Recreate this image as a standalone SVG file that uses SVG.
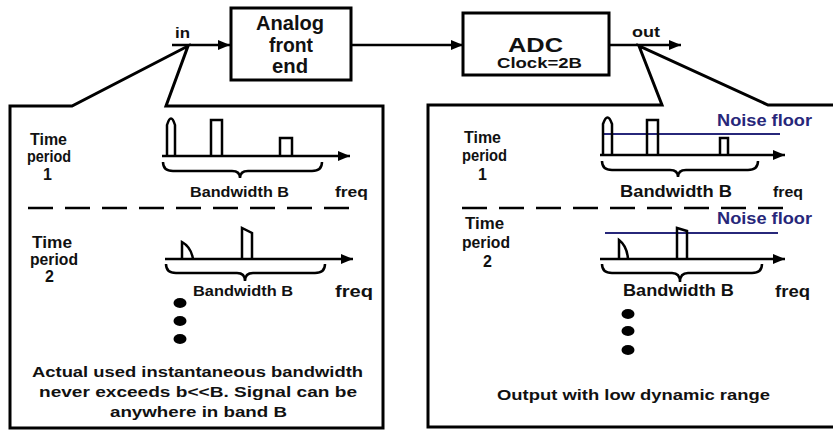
<svg xmlns="http://www.w3.org/2000/svg" width="833" height="431" viewBox="0 0 833 431">
<defs>
<marker id="ah" markerUnits="userSpaceOnUse" markerWidth="12" markerHeight="10" refX="12" refY="5" orient="auto">
<path d="M0,0 L12,5 L0,10 Z" fill="#000"/>
</marker>
<style>
.ln{fill:none;stroke:#000;stroke-width:2.5}
.bx{fill:#fff;stroke:#000;stroke-width:3}
.ax{fill:none;stroke:#000;stroke-width:2.5;marker-end:url(#ah)}
.nf{fill:none;stroke:#27277a;stroke-width:2}
.t{font-family:"Liberation Sans",Arial,sans-serif;font-weight:bold;fill:#111}
.b{fill:#27277a}
.dot{fill:#000}
.ds{fill:none;stroke:#000;stroke-width:2.5;stroke-dasharray:25 12}
</style>
</defs>
<rect width="833" height="431" fill="#fff"/>

<g id="callout-in">
<path class="bx" d="M10,106 L72,106 L188,46 L166,106 L383,106 L383,428 L10,428 Z"/>
</g>
<g id="callout-out">
<path class="bx" d="M428,105 L662,105 L639,46 L768,105 L840,105 L840,427 L428,427 Z"/>
</g>

<g id="connectors">
<line class="ax" x1="172" y1="45" x2="230" y2="45"/>
<line class="ax" x1="351" y1="45" x2="463" y2="45"/>
<line class="ax" x1="609" y1="45" x2="681" y2="45"/>
</g>

<g id="label-in"><text class="t" x="175" y="38" font-size="14" textLength="15" lengthAdjust="spacingAndGlyphs">in</text></g>
<g id="label-out"><text class="t" x="632" y="37" font-size="14" textLength="28" lengthAdjust="spacingAndGlyphs">out</text></g>

<g id="node-afe">
<rect class="bx" x="231" y="8" width="120" height="72"/>
<text class="t" x="256" y="30" font-size="20" textLength="68" lengthAdjust="spacingAndGlyphs">Analog</text>
<text class="t" x="269" y="52" font-size="20" textLength="44" lengthAdjust="spacingAndGlyphs">front</text>
<text class="t" x="272" y="73" font-size="20" textLength="36" lengthAdjust="spacingAndGlyphs">end</text>
</g>

<g id="node-adc">
<rect class="bx" x="463" y="13" width="146" height="62"/>
<text class="t" x="508" y="52" font-size="21" textLength="55" lengthAdjust="spacingAndGlyphs">ADC</text>
<text class="t" x="497" y="68" font-size="15" textLength="85" lengthAdjust="spacingAndGlyphs">Clock=2B</text>
</g>

<g id="input-spectra">
<text class="t" x="30" y="145" font-size="16" textLength="37" lengthAdjust="spacingAndGlyphs">Time</text>
<text class="t" x="27" y="162" font-size="16" textLength="44" lengthAdjust="spacingAndGlyphs">period</text>
<text class="t" x="43" y="180" font-size="16">1</text>
<line class="ax" x1="162" y1="156" x2="350" y2="156"/>
<path class="ln" d="M167,156 V125 Q171,112 175,125 V156"/>
<path class="ln" d="M211,156 V120 H222 V156"/>
<path class="ln" d="M280,156 V138 H292 V156"/>
<path class="ln" d="M163,162 Q163,171 173,171 L232,171 Q240,171 240,178 Q240,171 248,171 L312,171 Q322,171 322,162"/>
<text class="t" x="190" y="197" font-size="15.5" textLength="99" lengthAdjust="spacingAndGlyphs">Bandwidth B</text>
<text class="t" x="335" y="197" font-size="15" textLength="33" lengthAdjust="spacingAndGlyphs">freq</text>
<line class="ds" x1="28" y1="208" x2="350" y2="208"/>
<text class="t" x="32" y="248" font-size="16" textLength="40" lengthAdjust="spacingAndGlyphs">Time</text>
<text class="t" x="30" y="265" font-size="16" textLength="48" lengthAdjust="spacingAndGlyphs">period</text>
<text class="t" x="45" y="282" font-size="16">2</text>
<line class="ax" x1="165" y1="259" x2="353" y2="259"/>
<path class="ln" d="M182,259 V242 Q191,247 193,259"/>
<path class="ln" d="M242,259 V228 L252,233 V259"/>
<path class="ln" d="M166,264 Q166,273 176,273 L237,273 Q245,273 245,281 Q245,273 253,273 L315,273 Q325,273 325,264"/>
<text class="t" x="193" y="296" font-size="15.5" textLength="100" lengthAdjust="spacingAndGlyphs">Bandwidth B</text>
<text class="t" x="335" y="297" font-size="16" textLength="38" lengthAdjust="spacingAndGlyphs">freq</text>
<ellipse class="dot" cx="180" cy="303" rx="6.5" ry="5"/>
<ellipse class="dot" cx="180" cy="321" rx="6.5" ry="5"/>
<ellipse class="dot" cx="180" cy="339" rx="6.5" ry="5"/>
<text class="t" x="32" y="377" font-size="15.5" textLength="331" lengthAdjust="spacingAndGlyphs">Actual used instantaneous bandwidth</text>
<text class="t" x="39" y="397" font-size="15.5" textLength="318" lengthAdjust="spacingAndGlyphs">never exceeds b&lt;&lt;B. Signal can be</text>
<text class="t" x="110" y="417" font-size="15.5" textLength="177" lengthAdjust="spacingAndGlyphs">anywhere in band B</text>
</g>

<g id="output-spectra">
<text class="t" x="464" y="143" font-size="16" textLength="37" lengthAdjust="spacingAndGlyphs">Time</text>
<text class="t" x="462" y="161" font-size="16" textLength="45" lengthAdjust="spacingAndGlyphs">period</text>
<text class="t" x="478" y="180" font-size="16">1</text>
<line class="nf" x1="602" y1="134" x2="780" y2="134"/>
<text class="t b" x="717" y="126" font-size="17" textLength="95" lengthAdjust="spacingAndGlyphs">Noise floor</text>
<line class="ax" x1="600" y1="155" x2="785" y2="155"/>
<path class="ln" d="M603,155 V124 Q607.5,111 612,124 V155"/>
<path class="ln" d="M647,155 V120 H658 V155"/>
<path class="ln" d="M720,155 V138 H728 V155"/>
<path class="ln" d="M602,161 Q602,170 612,170 L670,170 Q678,170 678,177 Q678,170 686,170 L748,170 Q758,170 758,161"/>
<text class="t" x="620" y="197" font-size="17" textLength="112" lengthAdjust="spacingAndGlyphs">Bandwidth B</text>
<text class="t" x="773" y="197" font-size="14" textLength="30" lengthAdjust="spacingAndGlyphs">freq</text>
<line class="ds" x1="462" y1="208" x2="783" y2="208"/>
<text class="t b" x="717" y="224" font-size="17" textLength="95" lengthAdjust="spacingAndGlyphs">Noise floor</text>
<line class="nf" x1="605" y1="233" x2="778" y2="233"/>
<text class="t" x="465" y="229" font-size="16" textLength="39" lengthAdjust="spacingAndGlyphs">Time</text>
<text class="t" x="462" y="248" font-size="16" textLength="48" lengthAdjust="spacingAndGlyphs">period</text>
<text class="t" x="483" y="267" font-size="16">2</text>
<line class="ax" x1="600" y1="259" x2="785" y2="259"/>
<path class="ln" d="M619,259 V240 Q627,246 628,259"/>
<path class="ln" d="M677,259 V228 L687,231 V259"/>
<path class="ln" d="M602,264 Q602,273 612,273 L672,273 Q680,273 680,282 Q680,273 688,273 L752,273 Q762,273 762,264"/>
<text class="t" x="623" y="296" font-size="17" textLength="111" lengthAdjust="spacingAndGlyphs">Bandwidth B</text>
<text class="t" x="775" y="297" font-size="16" textLength="35" lengthAdjust="spacingAndGlyphs">freq</text>
<ellipse class="dot" cx="628" cy="314" rx="6.5" ry="5"/>
<ellipse class="dot" cx="628" cy="331" rx="6.5" ry="5"/>
<ellipse class="dot" cx="628" cy="350" rx="6.5" ry="5"/>
<text class="t" x="497" y="400" font-size="15.5" textLength="273" lengthAdjust="spacingAndGlyphs">Output with low dynamic range</text>
</g>
</svg>
